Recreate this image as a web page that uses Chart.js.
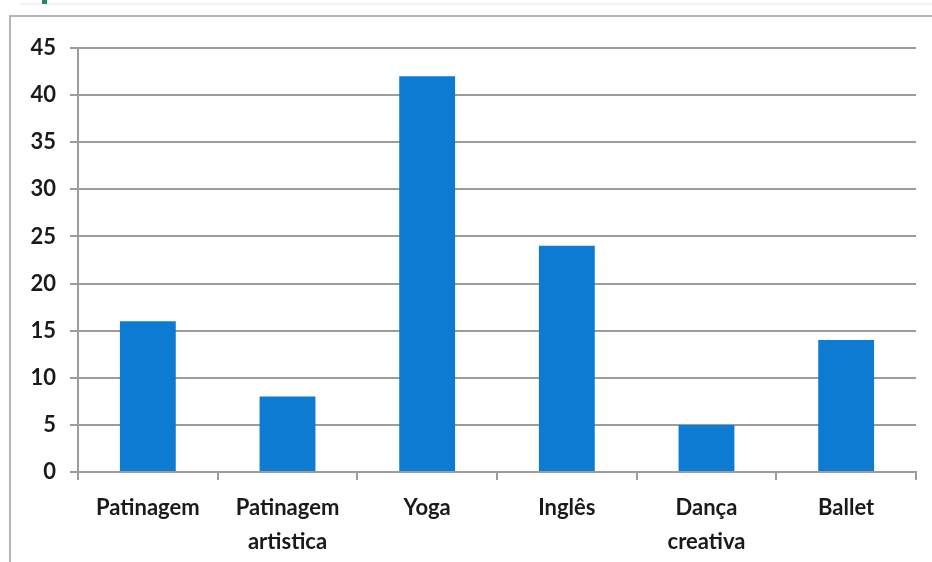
<!DOCTYPE html>
<html>
<head>
<meta charset="utf-8">
<script src="https://cdn.jsdelivr.net/npm/chart.js@4/dist/chart.umd.min.js"></script>
<style>
  html, body { margin: 0; padding: 0; background: #ffffff; }
  #wrap { width: 932px; height: 562px; position: relative; }
</style>
</head>
<body>
<div id="wrap"><canvas id="activityChart" width="932" height="562"></canvas></div>
<script>
// Atividades e número de inscritos
const categories = [['Patinagem'], ['Patinagem', 'artistica'], ['Yoga'], ['Inglês'], ['Dança', 'creativa'], ['Ballet']];
const values = [16, 8, 42, 24, 5, 14];
const yTicks = [0, 5, 10, 15, 20, 25, 30, 35, 40, 45];

const gridGray = '#9c9c9c';
const labelFont = { family: 'Lato', size: 22, weight: 'bold' };

// moldura cinzenta à volta do gráfico
const framePlugin = {
    id: 'frame',
    beforeDraw(chart) {
        const c = chart.ctx;
        c.save();
        c.fillStyle = '#ffffff';
        c.fillRect(0, 0, chart.width, chart.height);
        c.strokeStyle = '#b5b5b5';
        c.lineWidth = 2;
        c.beginPath();
        c.moveTo(10, chart.height);
        c.lineTo(10, 16);
        c.lineTo(chart.width, 16);
        c.stroke();
        c.strokeStyle = '#e4e4e4';
        c.lineWidth = 1;
        c.beginPath();
        c.moveTo(20, 4);
        c.lineTo(chart.width, 4);
        c.stroke();
        c.fillStyle = '#1f8a5a';
        c.fillRect(42, 0, 5, 4);
        c.restore();
    }
};

const ctx = document.getElementById('activityChart').getContext('2d');
const activityChart = new Chart(ctx, {
    type: 'bar',
    data: {
        labels: categories,
        datasets: [{
            data: values,
            backgroundColor: '#0d7bd2',
            borderWidth: 0,
            categoryPercentage: 1.0,
            barPercentage: 0.4
        }]
    },
    plugins: [framePlugin],
    options: {
        responsive: false,
        animation: false,
        layout: { padding: { top: 48, right: 16, left: 0, bottom: 0 } },
        plugins: {
            legend: { display: false },
            tooltip: { enabled: false }
        },
        scales: {
            x: {
                grid: {
                    display: true,
                    drawOnChartArea: false,
                    drawTicks: true,
                    tickLength: 8,
                    color: gridGray,
                    lineWidth: 2
                },
                border: { color: gridGray, width: 2 },
                ticks: {
                    color: '#1a1a1a',
                    font: Object.assign({ lineHeight: 1.55 }, labelFont),
                    padding: 11,
                    maxRotation: 0
                },
                afterFit(scale) { scale.height = 90; }
            },
            y: {
                min: 0,
                max: 45,
                afterBuildTicks(scale) { scale.ticks = yTicks.map(v => ({ value: v })); },
                grid: {
                    color: gridGray,
                    lineWidth: 2,
                    tickLength: 8
                },
                border: { color: gridGray, width: 2 },
                ticks: {
                    color: '#1a1a1a',
                    font: labelFont,
                    padding: 14
                },
                afterFit(scale) { scale.width = 78; }
            }
        }
    }
});
</script>
</body>
</html>
